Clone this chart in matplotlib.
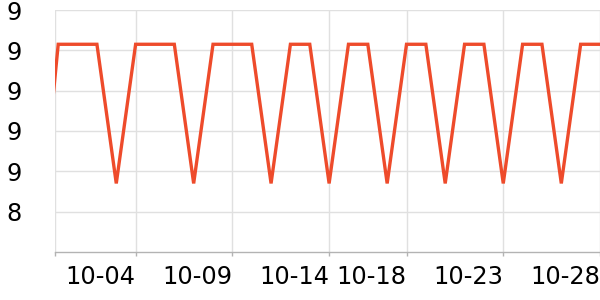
import pandas as pd
import matplotlib
matplotlib.use("Agg")
import matplotlib.pyplot as plt
from matplotlib.ticker import FuncFormatter

# data, one value per day
dates = pd.date_range("2023-09-29", "2023-10-28", freq="D")
values = [8.25,
          9.23, 9.23, 9.23, 8.54,   # 09-30 .. 10-03
          9.23, 9.23, 9.23, 8.54,   # 10-04 .. 10-07
          9.23, 9.23, 9.23, 8.54,   # 10-08 .. 10-11
          9.23, 9.23, 8.54,         # 10-12 .. 10-14
          9.23, 9.23, 8.54,         # 10-15 .. 10-17
          9.23, 9.23, 8.54,         # 10-18 .. 10-20
          9.23, 9.23, 8.54,         # 10-21 .. 10-23
          9.23, 9.23, 8.54,         # 10-24 .. 10-26
          9.23, 9.23]               # 10-27 .. 10-28

tick_dates = ["2023-10-04", "2023-10-09", "2023-10-14",
              "2023-10-18", "2023-10-23", "2023-10-28"]
y_ticks = [8.4, 8.6, 8.8, 9.0, 9.2, 9.4]

line_color = "#ee4b2b"
grid_color = "#e0e0e0"
axis_color = "#b3b3b3"

fig = plt.figure(figsize=(6, 3), dpi=100)
ax = fig.add_axes([55 / 600, 48 / 300, 545 / 600, 242 / 300])

ax.plot(dates, values, color=line_color, linewidth=2.4, solid_joinstyle="miter")

x_left = pd.Timestamp("2023-09-30") - pd.Timedelta(hours=4)
x_right = pd.Timestamp("2023-10-28")
ax.set_xlim(x_left, x_right)
ax.set_ylim(8.2, 9.4)

ticks = [x_left] + [pd.Timestamp(d) for d in tick_dates]
ax.set_xticks(ticks)
ax.set_xticklabels([""] + [pd.Timestamp(d).strftime("%m-%d") for d in tick_dates],
                   ha="right")
ax.set_yticks(y_ticks)
ax.yaxis.set_major_formatter(FuncFormatter(lambda v, p: "%.0f" % v))

ax.grid(True, color=grid_color, linewidth=1)
ax.set_axisbelow(True)
for s in ["top", "right", "left"]:
    ax.spines[s].set_visible(False)
ax.spines["bottom"].set_color(axis_color)
ax.spines["bottom"].set_linewidth(1)

ax.tick_params(axis="x", length=3, width=1, color=axis_color, pad=6,
               labelsize=17.3, labelcolor="black")
ax.tick_params(axis="y", length=0, pad=24, labelsize=17.3, labelcolor="black")

fig.savefig("out.png", dpi=100)
